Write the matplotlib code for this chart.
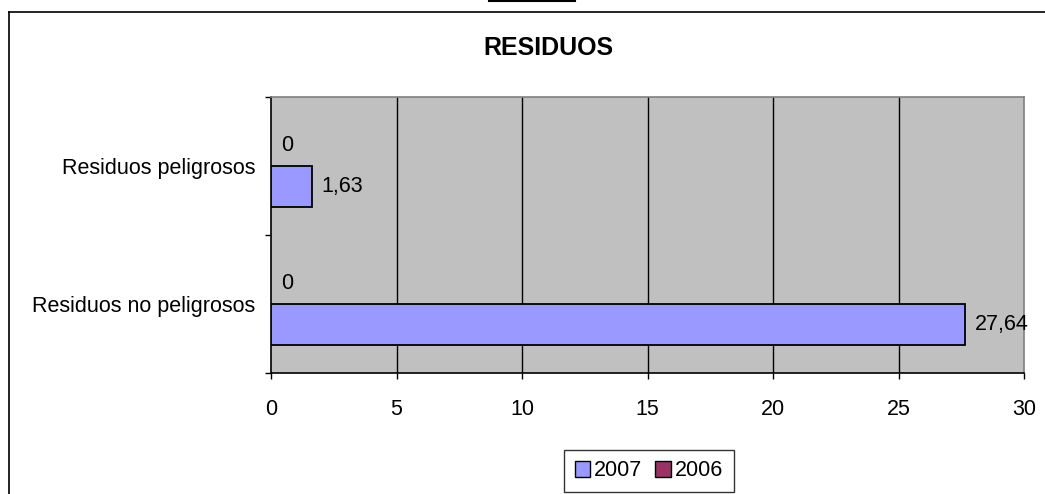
import matplotlib.pyplot as plt
from matplotlib.lines import Line2D
from matplotlib.patches import Patch
import numpy as np

plt.rcParams['font.family'] = ['Liberation Sans', 'DejaVu Sans']

# data
categories = ['Residuos no peligrosos', 'Residuos peligrosos']
values_2007 = [27.64, 1.63]
values_2006 = [0, 0]
labels_2007 = ['27,64', '1,63']
labels_2006 = ['0', '0']
x_ticks = [0, 5, 10, 15, 20, 25, 30]

col_2007 = '#9999FF'
col_2006 = '#993366'
fs = 15.5

fig = plt.figure(figsize=(10.45, 4.94), dpi=100)
ax = fig.add_axes([271 / 1045, 1 - 373 / 494, (1024 - 271) / 1045, (373 - 97) / 494])
ax.set_facecolor('#C0C0C0')

y = np.arange(len(categories))
bh = 0.3
b07 = ax.barh(y - bh / 2, values_2007, height=bh, color=col_2007,
              edgecolor='black', linewidth=1.3, zorder=3)
b06 = ax.barh(y + bh / 2, values_2006, height=bh, color=col_2006,
              edgecolor='none', linewidth=0, zorder=3)
ax.bar_label(b07, labels=labels_2007, padding=7, fontsize=fs)
ax.bar_label(b06, labels=labels_2006, padding=7, fontsize=fs)

ax.set_xlim(0, 30)
ax.set_ylim(-0.5, 1.5)
ax.set_xticks(x_ticks)
ax.set_xticklabels([str(t) for t in x_ticks], fontsize=fs)
ax.set_yticks(y)
ax.set_yticklabels(categories, fontsize=fs)
ax.set_yticks([-0.5, 0.5, 1.5], minor=True)
ax.tick_params(axis='y', which='major', length=0, pad=11)
ax.tick_params(axis='y', which='minor', length=4, width=1, color='black')
ax.tick_params(axis='x', length=4, width=1, pad=15)

for xv in x_ticks[1:-1]:
    ax.axvline(xv, color='black', linewidth=1, zorder=1)

ax.spines['left'].set_color('black')
ax.spines['bottom'].set_color('black')
ax.spines['top'].set_color('#808080')
ax.spines['right'].set_color('#808080')
for s in ax.spines.values():
    s.set_linewidth(1.2)

fig.text(548 / 1045, 1 - 48 / 494, 'RESIDUOS', ha='center', va='center',
         fontsize=18, fontweight='bold')

# chart frame (partly cut off) and stray cell border at the top
fig.add_artist(Line2D([8.5 / 1045, 8.5 / 1045], [0, 1 - 12 / 494],
                      transform=fig.transFigure, color='black', linewidth=1.2))
fig.add_artist(Line2D([8.5 / 1045, 1], [1 - 12 / 494, 1 - 12 / 494],
                      transform=fig.transFigure, color='black', linewidth=1.2))
fig.add_artist(Line2D([489 / 1045, 575 / 1045], [1 - 1.5 / 494, 1 - 1.5 / 494],
                      transform=fig.transFigure, color='black', linewidth=1.5))

handles = [Patch(facecolor=col_2007, edgecolor='black', linewidth=1),
           Patch(facecolor=col_2006, edgecolor='black', linewidth=1)]
leg = fig.legend(handles, ['2007', '2006'], loc='center',
                 bbox_to_anchor=(649 / 1045, 1 - 471 / 494), ncol=2,
                 fontsize=fs, frameon=True, fancybox=False, edgecolor='black',
                 handlelength=0.7, handleheight=0.7, handletextpad=0.2,
                 columnspacing=0.6, borderpad=0.5, borderaxespad=0)
leg.get_frame().set_linewidth(1)

fig.savefig('out.png', dpi=100)
